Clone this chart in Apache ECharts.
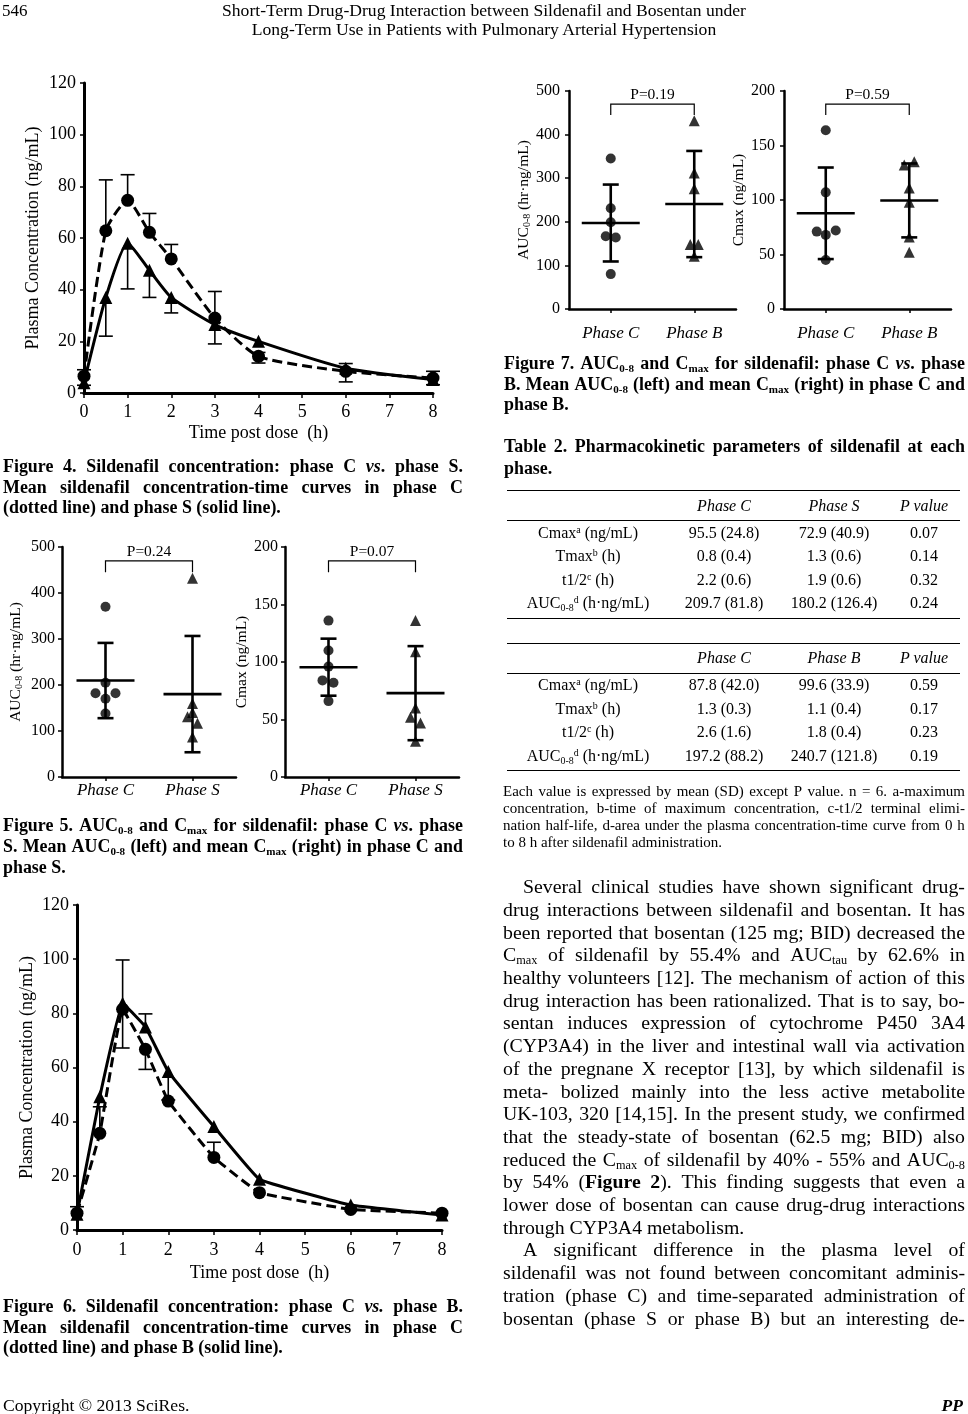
<!DOCTYPE html>
<html><head><meta charset="utf-8">
<script src="https://cdn.jsdelivr.net/npm/echarts@6/dist/echarts.min.js"></script>
<style>
html,body{margin:0;padding:0;background:#fff;}
#page{position:relative;width:968px;height:1414px;overflow:hidden;font-family:"Liberation Serif","Times New Roman",serif;color:#000;}
#chart{position:absolute;left:0;top:0;width:968px;height:1414px;}
.ln{position:absolute;white-space:nowrap;}
.rule{position:absolute;height:0;border-top:1.4px solid #000;}
sub{font-size:0.62em;vertical-align:-0.28em;line-height:0;}
sup{font-size:0.62em;vertical-align:0.55em;line-height:0;}
</style></head>
<body><div id="page"><div id="chart"></div></div>
<script>
// ---------------- DATA ----------------
const timeH = [0, 0.5, 1, 1.5, 2, 3, 4, 6, 8];
// Figure 4 (phase C vs phase S)
const fig4PhaseC = [6.5, 62.8, 74.6, 62.2, 51.9, 29, 14.2, 8.4, 5.8];
const fig4PhaseS = [4, 37, 58, 47.5, 37, 26.5, 20, 9.6, 5.2];
const fig4PhaseCErrHigh = [9, 82.5, 84.5, 69.5, 57.5, 39.3, 15.7, 11.4, 8.4];
const fig4PhaseCErrLow  = [null, null, null, null, null, null, 11.6, 4.3, 3.2];
const fig4PhaseSErrLow  = [3, 22, 40.3, 37, 31, 19, null, null, null];
// Figure 6 (phase C vs phase B)
const fig6PhaseC = [6.2, 35.7, 81.5, 66.7, 47.6, 26.8, 13.8, 7.6, 6.2];
const fig6PhaseB = [5.8, 49.2, 83.7, 75, 58.5, 38.2, 18.7, 9.2, 5.5];
const fig6PhaseCErrHigh = [8.6, 45.5, null, null, null, 32.4, null, null, null];
const fig6PhaseCErrLow  = [null, null, 67.2, 59.3, null, null, null, null, null];
const fig6PhaseBErrHigh = [null, null, 99.7, 79.8, null, null, null, null, null];
const fig6PhaseBErrLow  = [null, null, null, null, 48, null, null, null, null];

// Individual values (n = 6)
const catsCS = ['Phase C', 'Phase S'];
const catsCB = ['Phase C', 'Phase B'];
const aucPhaseC_S = [370, 205, 182, 182, 170, 138];
const aucPhaseS   = [432, 160, 140, 131, 117, 87];
const cmaxPhaseC_S = [136, 110, 96, 84, 82, 66];
const cmaxPhaseS   = [136, 109, 60, 52, 47, 31];
const aucPhaseC_B = [345, 231, 199, 167, 164, 80];
const aucPhaseB   = [432, 312, 276, 148, 148, 121];
const cmaxPhaseC_B = [164, 107, 71, 72, 68, 45];
const cmaxPhaseB   = [135, 132, 111, 98, 66, 52];

// Table 2
const tableParamLabels = ['Cmax<sup>a</sup> (ng/mL)', 'Tmax<sup>b</sup> (h)', 't1/2<sup>c</sup> (h)', 'AUC<sub>0-8</sub><sup>d</sup> (h·ng/mL)'];
const tS_phaseCMean = [95.5, 0.8, 2.2, 209.7];
const tS_phaseCSD   = [24.8, 0.4, 0.6, 81.8];
const tS_phaseSMean = [72.9, 1.3, 1.9, 180.2];
const tS_phaseSSD   = [40.9, 0.6, 0.6, 126.4];
const tS_p          = [0.07, 0.14, 0.32, 0.24];
const tB_phaseCMean = [87.8, 1.3, 2.6, 197.2];
const tB_phaseCSD   = [42.0, 0.3, 1.6, 88.2];
const tB_phaseBMean = [99.6, 1.1, 1.8, 240.7];
const tB_phaseBSD   = [33.9, 0.4, 0.4, 121.8];
const tB_p          = [0.59, 0.17, 0.23, 0.19];

// ---------------- LAYOUT / STYLE ----------------
const SERIF = 'Liberation Serif';
const JIT = {
  c5L: [0, 0, -10, 10, 0, 0], s5L: [0, 0, 0, -5, 5, 0],
  c5R: [0, 0, 0, -6, 5, 0],   s5R: [0, 0, 0, -5, 5, 0],
  c7L: [0, 0, 0, -5, 5, 0],   b7L: [0, 0, 0, -4, 4, 0],
  c7R: [0, 0, -9, 10, 0, 0],  b7R: [5, -5, 0, 0, 0, 0]
};

const page = document.getElementById('page');
function addText(html, x, yc, w, fs, o) {
  o = o || {};
  const lh = Math.round(fs * 1.25);
  const d = document.createElement('div');
  d.className = 'ln';
  d.style.left = x + 'px'; d.style.top = (yc - lh / 2) + 'px';
  d.style.width = w + 'px'; d.style.height = lh + 'px';
  d.style.lineHeight = lh + 'px'; d.style.fontSize = fs + 'px';
  if (o.bold) d.style.fontWeight = 'bold';
  if (o.italic) d.style.fontStyle = 'italic';
  if (o.justify) {
    d.style.display = 'flex'; d.style.justifyContent = 'space-between';
    html.split(' ').forEach(wd => { const s = document.createElement('span'); s.innerHTML = wd; d.appendChild(s); });
  } else {
    d.style.textAlign = o.align || 'left';
    d.innerHTML = html;
  }
  page.appendChild(d);
}
function addPara(lines, x, y0, step, w, fs, o, indentFirst, indents) {
  lines.forEach((l, i) => {
    const last = i === lines.length - 1;
    const ind = (indents && indents[i]) ? indents[i] : 0;
    addText(l, x + ind, y0 + i * step, w - ind, fs, Object.assign({}, o, {justify: !last || (o && o.justifyLast)}));
  });
}
function rule(x, y, w) {
  const d = document.createElement('div'); d.className = 'rule';
  d.style.left = x + 'px'; d.style.top = y + 'px'; d.style.width = w + 'px';
  page.appendChild(d);
}

// Header / footer
addText('546', 2, 10, 60, 17);
addText('Short-Term Drug-Drug Interaction between Sildenafil and Bosentan under', 184, 10, 600, 17.6, {align: 'center'});
addText('Long-Term Use in Patients with Pulmonary Arterial Hypertension', 184, 29, 600, 17.6, {align: 'center'});
addText('Copyright © 2013 SciRes.', 3, 1405, 300, 17.6);
addText('PP', 863, 1405, 100, 17.5, {bold: true, italic: true, align: 'right'});

// Captions (left column)
const capFS = 17.9;
addPara(['Figure 4. Sildenafil concentration: phase C <i>vs</i>. phase S.',
         'Mean sildenafil concentration-time curves in phase C',
         '(dotted line) and phase S (solid line).'], 3, 466, 20.5, 460, capFS, {bold: true});
addPara(['Figure 5. AUC<sub>0-8</sub> and C<sub>max</sub> for sildenafil: phase C <i>vs</i>. phase',
         'S. Mean AUC<sub>0-8</sub> (left) and mean C<sub>max</sub> (right) in phase C and',
         'phase S.'], 3, 825, 20.8, 460, capFS, {bold: true});
addPara(['Figure 6. Sildenafil concentration: phase C <i>vs.</i> phase B.',
         'Mean sildenafil concentration-time curves in phase C',
         '(dotted line) and phase B (solid line).'], 3, 1306, 20.7, 460, capFS, {bold: true});
// Right column captions
addPara(['Figure 7. AUC<sub>0-8</sub> and C<sub>max</sub> for sildenafil: phase C <i>vs</i>. phase',
         'B. Mean AUC<sub>0-8</sub> (left) and mean C<sub>max</sub> (right) in phase C and',
         'phase B.'], 504, 362.7, 20.8, 461, capFS, {bold: true});
addPara(['Table 2. Pharmacokinetic parameters of sildenafil at each',
         'phase.'], 504, 446, 21.7, 461, capFS, {bold: true});

// Table 2
const colC = [588, 724, 834, 924];
function fmt1(v) { return v.toFixed(1); }
function tableBlock(top, hdr, lbls, cm, cs, xm, xs, pv) {
  rule(507, top, 453);
  const hy = top + 15.5;
  [['', 0], ['Phase C', 1], [hdr, 2], ['P value', 3]].forEach(([t, k]) => {
    if (t) addText(t, colC[k] - 80, hy, 160, 16, {italic: true, align: 'center'});
  });
  rule(507, top + 30, 453);
  lbls.forEach((l, i) => {
    const y = top + 42.6 + i * 23.6;
    addText(l, colC[0] - 110, y, 220, 16, {align: 'center'});
    addText(fmt1(cm[i]) + ' (' + fmt1(cs[i]) + ')', colC[1] - 70, y, 140, 16, {align: 'center'});
    addText(fmt1(xm[i]) + ' (' + fmt1(xs[i]) + ')', colC[2] - 70, y, 140, 16, {align: 'center'});
    addText(pv[i].toFixed(2), colC[3] - 50, y, 100, 16, {align: 'center'});
  });
  rule(507, top + 127.6, 453);
}
tableBlock(490, 'Phase S', tableParamLabels, tS_phaseCMean, tS_phaseCSD, tS_phaseSMean, tS_phaseSSD, tS_p);
tableBlock(642.5, 'Phase B', tableParamLabels, tB_phaseCMean, tB_phaseCSD, tB_phaseBMean, tB_phaseBSD, tB_p);
addPara(['Each value is expressed by mean (SD) except P value. n = 6. a-maximum',
         'concentration, b-time of maximum concentration, c-t1/2 terminal elimi-',
         'nation half-life, d-area under the plasma concentration-time curve from 0 h',
         'to 8 h after sildenafil administration.'], 503, 791.7, 16.9, 462, 15, {});

// Body text
const body1 = ['Several clinical studies have shown significant drug-',
  'drug interactions between sildenafil and bosentan. It has',
  'been reported that bosentan (125 mg; BID) decreased the',
  'C<sub>max</sub> of sildenafil by 55.4% and AUC<sub>tau</sub> by 62.6% in',
  'healthy volunteers [12]. The mechanism of action of this',
  'drug interaction has been rationalized. That is to say, bo-',
  'sentan induces expression of cytochrome P450 3A4',
  '(CYP3A4) in the liver and intestinal wall via activation',
  'of the pregnane X receptor [13], by which sildenafil is',
  'meta- bolized mainly into the less active metabolite',
  'UK-103, 320 [14,15]. In the present study, we confirmed',
  'that the steady-state of bosentan (62.5 mg; BID) also',
  'reduced the C<sub>max</sub> of sildenafil by 40% - 55% and AUC<sub>0-8</sub>',
  'by 54% (<b>Figure</b> <b>2</b>). This finding suggests that even a',
  'lower dose of bosentan can cause drug-drug interactions',
  'through CYP3A4 metabolism.'];
const body2 = ['A significant difference in the plasma level of',
  'sildenafil was not found between concomitant adminis-',
  'tration (phase C) and time-separated administration of',
  'bosentan (phase S or phase B) but an interesting de-'];
const bodyFS = 19.8;
addPara(body1, 503, 886.7, 22.7, 462, bodyFS, {}, true, [20]);
addPara(body2, 503, 886.7 + 16 * 22.7, 22.7, 462, bodyFS, {justifyLast: true}, true, [20]);

// ---------------- CHARTS ----------------
const K = '#000';
function vAxis(gi, min, max, interval, o) {
  return {
    type: 'value', gridIndex: gi, min, max, interval,
    axisLine: {show: true, onZero: false, lineStyle: {color: K, width: o.lw || 3}},
    axisTick: {show: true, length: o.tick || 4, lineStyle: {color: K, width: 1.5}},
    axisLabel: {color: K, fontFamily: SERIF, fontSize: o.fs, margin: o.margin},
    splitLine: {show: false},
    name: o.name, nameLocation: 'middle', nameGap: o.nameGap,
    nameTextStyle: Object.assign({color: K, fontFamily: SERIF, fontSize: o.nfs}, o.rich ? {rich: o.rich} : {})
  };
}
function cAxis(gi, cats, margin) {
  return {
    type: 'category', gridIndex: gi, data: cats, boundaryGap: true,
    axisLine: {show: true, onZero: false, lineStyle: {color: K, width: 2.5}},
    axisTick: {show: true, alignWithLabel: true, length: 4, lineStyle: {color: K, width: 1.5}},
    axisLabel: {color: K, fontFamily: SERIF, fontSize: 17, fontStyle: 'italic', margin},
    splitLine: {show: false}
  };
}
function lineSeries(gi, ys, dashed, symbol, smooth) {
  return {
    type: 'line', xAxisIndex: gi, yAxisIndex: gi, data: timeH.map((t, i) => [t, ys[i]]),
    symbol, symbolSize: 13, smooth, z: 3,
    itemStyle: {color: K}, lineStyle: {color: K, width: 3, type: dashed ? [10, 5] : 'solid'},
    clip: false, silent: true
  };
}
function errSeries(gi, means, ends) {
  const data = [];
  timeH.forEach((t, i) => { if (ends[i] != null) data.push([t, means[i], ends[i]]); });
  return {
    type: 'custom', xAxisIndex: gi, yAxisIndex: gi, z: 4, silent: true, data,
    renderItem(params, api) {
      const a = api.coord([api.value(0), api.value(1)]);
      const b = api.coord([api.value(0), api.value(2)]);
      return {type: 'group', children: [
        {type: 'line', shape: {x1: a[0], y1: a[1], x2: b[0], y2: b[1]}, style: {stroke: K, lineWidth: 1.6}},
        {type: 'line', shape: {x1: b[0] - 7, y1: b[1], x2: b[0] + 7, y2: b[1]}, style: {stroke: K, lineWidth: 1.6}}
      ]};
    }
  };
}
function dotSeries(gi, vals, jit, symbol, cat) {
  return {
    type: 'scatter', xAxisIndex: gi, yAxisIndex: gi, symbol, symbolSize: symbol === 'triangle' ? 11 : 10,
    itemStyle: {color: K}, z: 4, silent: true,
    data: vals.map((v, i) => ({value: [cat, v], symbolOffset: [jit[i], 0]}))
  };
}
function meanSdSeries(gi, m0, s0, m1, s1) {
  return {
    type: 'custom', xAxisIndex: gi, yAxisIndex: gi, z: 5, silent: true,
    data: [[0, m0, s0], [1, m1, s1]],
    renderItem(params, api) {
      const x = api.value(0), m = api.value(1), sd = api.value(2);
      const pm = api.coord([x, m]), lo = api.coord([x, m - sd]), hi = api.coord([x, m + sd]);
      const st = {stroke: K, lineWidth: 2.6};
      return {type: 'group', children: [
        {type: 'line', shape: {x1: pm[0] - 29, y1: pm[1], x2: pm[0] + 29, y2: pm[1]}, style: st},
        {type: 'line', shape: {x1: lo[0], y1: lo[1], x2: hi[0], y2: hi[1]}, style: st},
        {type: 'line', shape: {x1: lo[0] - 8, y1: lo[1], x2: lo[0] + 8, y2: lo[1]}, style: st},
        {type: 'line', shape: {x1: hi[0] - 8, y1: hi[1], x2: hi[0] + 8, y2: hi[1]}, style: st}
      ]};
    }
  };
}
function bracketSeries(gi, max, p) {
  return {
    type: 'custom', xAxisIndex: gi, yAxisIndex: gi, z: 5, silent: true,
    data: [[0, max]],
    renderItem(params, api) {
      const a = api.coord([0, max * 0.89]), b = api.coord([0, max * 0.94]);
      const c = api.coord([1, max * 0.94]), d = api.coord([1, max * 0.89]);
      return {type: 'group', children: [
        {type: 'polyline', shape: {points: [a, b, c, d]}, style: {stroke: K, lineWidth: 1.2, fill: 'none'}},
        {type: 'text', x: (b[0] + c[0]) / 2, y: b[1] - 1,
         style: {text: 'P=' + p.toFixed(2), fontSize: 15.5, fontFamily: SERIF, fill: K, align: 'center', verticalAlign: 'bottom'}}
      ]};
    }
  };
}
const aucRich = {
  n: {fontSize: 15.5, fontFamily: SERIF, color: K},
  s: {fontSize: 10, fontFamily: SERIF, color: K, padding: [6, 0, 0, 0]}
};
const aucName = '{n|AUC}{s|0-8}{n| (hr·ng/mL)}';

const grids = [
  {left: 84, top: 83, width: 349, height: 310},     // 0 Fig 4
  {left: 62, top: 547, width: 174, height: 230},    // 1 Fig 5 left
  {left: 285, top: 547, width: 174, height: 230},   // 2 Fig 5 right
  {left: 77, top: 905, width: 365, height: 325},    // 3 Fig 6
  {left: 569, top: 91, width: 167, height: 218},    // 4 Fig 7 left
  {left: 784, top: 91, width: 167, height: 218}     // 5 Fig 7 right
];

const xAxes = [
  vAxis(0, 0, 8, 1, {fs: 18, margin: 10, tick: 5, name: 'Time post dose  (h)', nameGap: 31, nfs: 18}),
  cAxis(1, catsCS, 5),
  cAxis(2, catsCS, 5),
  vAxis(3, 0, 8, 1, {fs: 18, margin: 11, tick: 5, name: 'Time post dose  (h)', nameGap: 34, nfs: 18}),
  cAxis(4, catsCB, 16),
  cAxis(5, catsCB, 16)
];
const yAxes = [
  vAxis(0, 0, 120, 20, {fs: 18, margin: 8, name: 'Plasma Concentration (ng/mL)', nameGap: 42, nfs: 18}),
  vAxis(1, 0, 500, 100, {fs: 16, margin: 7, lw: 2.5, name: aucName, nameGap: 38, nfs: 15.5, rich: aucRich}),
  vAxis(2, 0, 200, 50, {fs: 16, margin: 7, lw: 2.5, name: 'Cmax (ng/mL)', nameGap: 30, nfs: 15.5}),
  vAxis(3, 0, 120, 20, {fs: 18, margin: 8, name: 'Plasma Concentration (ng/mL)', nameGap: 41, nfs: 18}),
  vAxis(4, 0, 500, 100, {fs: 16, margin: 9, lw: 2.5, name: aucName, nameGap: 28, nfs: 15.5, rich: aucRich}),
  vAxis(5, 0, 200, 50, {fs: 16, margin: 9, lw: 2.5, name: 'Cmax (ng/mL)', nameGap: 18, nfs: 15.5})
];

const series = [
  // Figure 4
  lineSeries(0, fig4PhaseC, true, 'circle', 0.2),
  lineSeries(0, fig4PhaseS, false, 'triangle', 0.2),
  errSeries(0, fig4PhaseC, fig4PhaseCErrHigh),
  errSeries(0, fig4PhaseC, fig4PhaseCErrLow),
  errSeries(0, fig4PhaseS, fig4PhaseSErrLow),
  // Figure 6
  lineSeries(3, fig6PhaseC, true, 'circle', 0.08),
  lineSeries(3, fig6PhaseB, false, 'triangle', 0.08),
  errSeries(3, fig6PhaseC, fig6PhaseCErrHigh),
  errSeries(3, fig6PhaseC, fig6PhaseCErrLow),
  errSeries(3, fig6PhaseB, fig6PhaseBErrHigh),
  errSeries(3, fig6PhaseB, fig6PhaseBErrLow),
  // Figure 5 left (AUC)
  dotSeries(1, aucPhaseC_S, JIT.c5L, 'circle', 0),
  dotSeries(1, aucPhaseS, JIT.s5L, 'triangle', 1),
  meanSdSeries(1, tS_phaseCMean[3], tS_phaseCSD[3], tS_phaseSMean[3], tS_phaseSSD[3]),
  bracketSeries(1, 500, tS_p[3]),
  // Figure 5 right (Cmax)
  dotSeries(2, cmaxPhaseC_S, JIT.c5R, 'circle', 0),
  dotSeries(2, cmaxPhaseS, JIT.s5R, 'triangle', 1),
  meanSdSeries(2, tS_phaseCMean[0], tS_phaseCSD[0], tS_phaseSMean[0], tS_phaseSSD[0]),
  bracketSeries(2, 200, tS_p[0]),
  // Figure 7 left (AUC)
  dotSeries(4, aucPhaseC_B, JIT.c7L, 'circle', 0),
  dotSeries(4, aucPhaseB, JIT.b7L, 'triangle', 1),
  meanSdSeries(4, tB_phaseCMean[3], tB_phaseCSD[3], tB_phaseBMean[3], tB_phaseBSD[3]),
  bracketSeries(4, 500, tB_p[3]),
  // Figure 7 right (Cmax)
  dotSeries(5, cmaxPhaseC_B, JIT.c7R, 'circle', 0),
  dotSeries(5, cmaxPhaseB, JIT.b7R, 'triangle', 1),
  meanSdSeries(5, tB_phaseCMean[0], tB_phaseCSD[0], tB_phaseBMean[0], tB_phaseBSD[0]),
  bracketSeries(5, 200, tB_p[0])
];

const chart = echarts.init(document.getElementById('chart'));
chart.setOption({
  animation: false,
  backgroundColor: 'transparent',
  textStyle: {fontFamily: SERIF},
  grid: grids,
  xAxis: xAxes,
  yAxis: yAxes,
  series
});
</script>
</body></html>
